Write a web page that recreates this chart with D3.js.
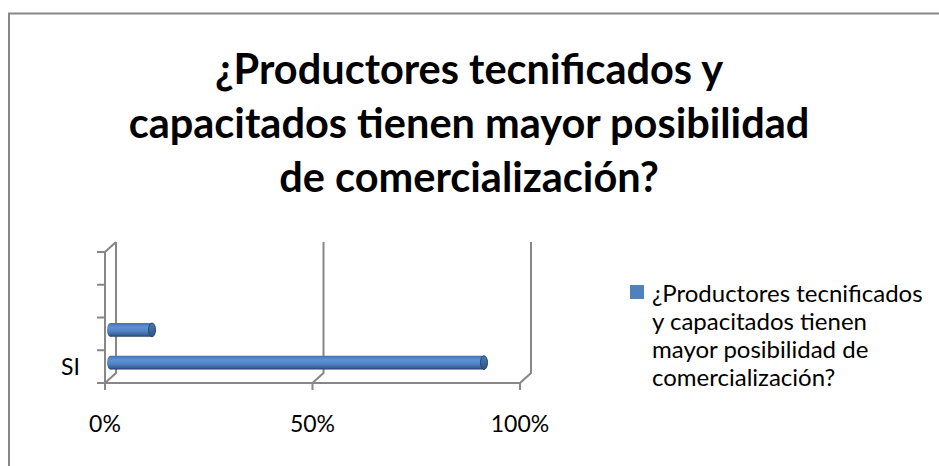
<!DOCTYPE html>
<html>
<head>
<meta charset="utf-8">
<script src="https://cdn.jsdelivr.net/npm/d3@7"></script>
<style>
  body { margin: 0; background: #fff; }
  svg { display: block; }
  text { font-family: Lato, "DejaVu Sans", sans-serif; fill: #000; }
</style>
</head>
<body>
<script>
const width = 939
const height = 466

// data
const titleLines = ["¿Productores tecnificados y", "capacitados tienen mayor posibilidad", "de comercialización?"]
const categories = ["SI", "NO", "", ""]
const shownLabels = ["SI", "", "", ""]
const values = [0.9, 0.1, 0, 0]
const xTicks = [0, 0.5, 1]
const legendLines = ["¿Productores tecnificados", "y capacitados tienen", "mayor posibilidad de", "comercialización?"]

const gridColor = "#878787"
const barColor = "#4F81BD"

const svg = d3.select("body").append("svg")
    .attr("width", width)
    .attr("height", height)

// chart frame (runs off the right/bottom of the picture)
svg.append("rect")
    .attr("x", 9).attr("y", 13.5)
    .attr("width", 1000).attr("height", 1000)
    .attr("fill", "none")
    .attr("stroke", gridColor)
    .attr("stroke-width", 2)

// title
const title = svg.append("g")
title.selectAll("text")
    .data(titleLines)
    .enter().append("text")
    .attr("x", 469)
    .attr("y", (d, i) => 84 + i * 54)
    .attr("text-anchor", "middle")
    .attr("font-weight", "bold")
    .attr("font-size", 41.5)
    .text(d => d)

// 3d geometry
const depth = { dx: 11, dy: -10 }
const x = d3.scaleLinear().domain([0, 1]).range([105, 520])
const y = d3.scaleBand().domain(d3.range(categories.length)).range([383, 252]).paddingInner(0.58).paddingOuter(0.29)
const yEdge = d3.scaleLinear().domain([0, categories.length]).range([383, 252])

const grid = svg.append("g")
    .attr("fill", "none")
    .attr("stroke", gridColor)
    .attr("stroke-width", 2)

// back wall gridlines + floor connectors
xTicks.forEach(t => {
    const fx = x(t), bx = x(t) + depth.dx
    grid.append("path")
        .attr("d", `M${fx},${yEdge(0)}L${bx},${yEdge(0) + depth.dy}L${bx},${yEdge(categories.length) + depth.dy}`)
    grid.append("line")
        .attr("x1", fx).attr("x2", fx)
        .attr("y1", yEdge(0)).attr("y2", yEdge(0) + 7)
})
// floor front edge
grid.append("line")
    .attr("x1", x(0)).attr("x2", x(1))
    .attr("y1", yEdge(0)).attr("y2", yEdge(0))
// side wall
grid.append("path")
    .attr("d", `M${x(0)},${yEdge(0)}L${x(0)},${yEdge(categories.length)}L${x(0) + depth.dx},${yEdge(categories.length) + depth.dy}`)
d3.range(categories.length + 1).forEach(i => {
    grid.append("line")
        .attr("x1", x(0) - 8).attr("x2", x(0))
        .attr("y1", yEdge(i)).attr("y2", yEdge(i))
})

// x labels
svg.append("g").selectAll("text")
    .data(xTicks)
    .enter().append("text")
    .attr("x", d => x(d))
    .attr("y", 432)
    .attr("text-anchor", "middle")
    .attr("font-size", 23)
    .text(d => d3.format(".0%")(d))

// category labels
svg.append("g").selectAll("text")
    .data(shownLabels)
    .enter().append("text")
    .attr("x", 80)
    .attr("y", (d, i) => (yEdge(i) + yEdge(i + 1)) / 2 + 8)
    .attr("text-anchor", "end")
    .attr("font-size", 23)
    .text(d => d)

// bar gradient
const defs = svg.append("defs")
const grad = defs.append("linearGradient")
    .attr("id", "cyl").attr("x1", 0).attr("x2", 0).attr("y1", 0).attr("y2", 1)
grad.selectAll("stop")
    .data([[0, "#4270AD"], [0.3, "#5D92D6"], [0.6, "#5183C4"], [0.85, "#3A639A"], [1, "#243F66"]])
    .enter().append("stop")
    .attr("offset", d => d[0])
    .attr("stop-color", d => d[1])
const capGrad = defs.append("linearGradient")
    .attr("id", "cap").attr("x1", 0).attr("x2", 0).attr("y1", 0).attr("y2", 1)
capGrad.selectAll("stop")
    .data([[0, "#4A7AB8"], [1, "#2E5283"]])
    .enter().append("stop")
    .attr("offset", d => d[0])
    .attr("stop-color", d => d[1])

// bars at mid depth
const mid = { dx: depth.dx / 2, dy: depth.dy / 2 + 1 }
const bars = svg.append("g")
    .selectAll("g")
    .data(values.map((v, i) => ({ v, i })).filter(d => d.v > 0))
    .enter().append("g")
    .attr("transform", `translate(${mid.dx},${mid.dy})`)
const bh = y.bandwidth()
const rx = 3.5
bars.append("ellipse")
    .attr("cx", x(0))
    .attr("cy", d => y(d.i) + bh / 2)
    .attr("rx", rx).attr("ry", bh / 2)
    .attr("fill", "url(#cyl)")
bars.append("rect")
    .attr("x", x(0))
    .attr("y", d => y(d.i))
    .attr("width", d => x(d.v) - x(0))
    .attr("height", bh)
    .attr("fill", "url(#cyl)")
bars.append("ellipse")
    .attr("cx", d => x(d.v))
    .attr("cy", d => y(d.i) + bh / 2)
    .attr("rx", rx).attr("ry", bh / 2)
    .attr("fill", "url(#cap)")
    .attr("stroke", "#26466F")
    .attr("stroke-width", 1)

// legend
const legend = svg.append("g")
legend.append("rect")
    .attr("x", 630).attr("y", 285)
    .attr("width", 14).attr("height", 14)
    .attr("fill", barColor)
legend.selectAll("text")
    .data(legendLines)
    .enter().append("text")
    .attr("x", 652)
    .attr("y", (d, i) => 302 + i * 28)
    .attr("font-size", 24)
    .text(d => d)
</script>
</body>
</html>
